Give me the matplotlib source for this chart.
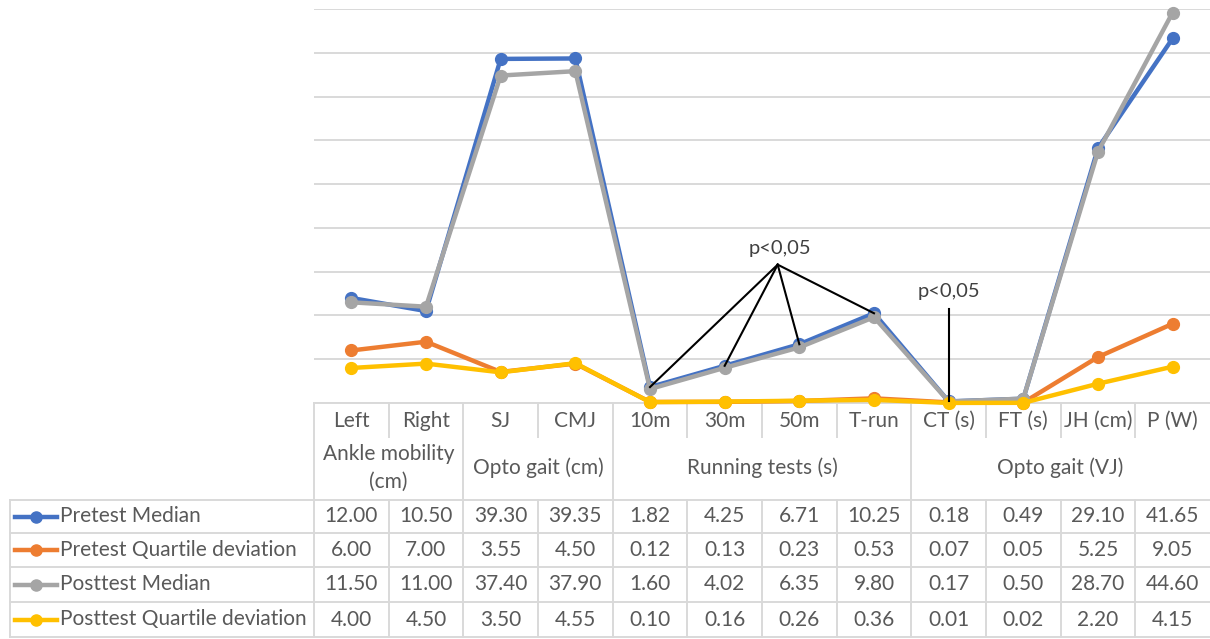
import matplotlib
matplotlib.use("Agg")
import matplotlib.pyplot as plt
from matplotlib.lines import Line2D

CATEGORIES = ["Left", "Right", "SJ", "CMJ", "10m", "30m", "50m", "T-run",
              "CT (s)", "FT (s)", "JH (cm)", "P (W)"]
GROUPS = ["Ankle mobility\n(cm)", "Opto gait (cm)", "Running tests (s)", "Opto gait (VJ)"]
GROUP_SPANS = [(0, 2), (2, 4), (4, 8), (8, 12)]

SERIES_NAMES = ["Pretest Median", "Pretest Quartile deviation",
                "Posttest Median", "Posttest Quartile deviation"]
PRETEST_MEDIAN = [12.00, 10.50, 39.30, 39.35, 1.82, 4.25, 6.71, 10.25, 0.18, 0.49, 29.10, 41.65]
PRETEST_QD = [6.00, 7.00, 3.55, 4.50, 0.12, 0.13, 0.23, 0.53, 0.07, 0.05, 5.25, 9.05]
POSTTEST_MEDIAN = [11.50, 11.00, 37.40, 37.90, 1.60, 4.02, 6.35, 9.80, 0.17, 0.50, 28.70, 44.60]
POSTTEST_QD = [4.00, 4.50, 3.50, 4.55, 0.10, 0.16, 0.26, 0.36, 0.01, 0.02, 2.20, 4.15]

COLORS = ["#4472C4", "#ED7D31", "#A5A5A5", "#FFC000"]
SERIES = [PRETEST_MEDIAN, PRETEST_QD, POSTTEST_MEDIAN, POSTTEST_QD]

# significant differences (running tests, CT)
SIG_RUN = [4, 5, 6, 7]
SIG_CT = 8

TEXT_COLOR = "#595959"
GRID_COLOR = "#D9D9D9"
FONT = ["Lato", "DejaVu Sans"]
FS = 15

W, H = 1210, 639
plt.rcParams["font.family"] = FONT

fig = plt.figure(figsize=(W / 100, H / 100), dpi=100)

# plot area in pixels (from top-left)
px_left, px_right, px_top, px_bottom = 314, 1210, 9, 403
ax = fig.add_axes([px_left / W, (H - px_bottom) / H,
                   (px_right - px_left) / W, (px_bottom - px_top) / H])
ax.set_xlim(-0.5, len(CATEGORIES) - 0.5)
ax.set_ylim(0, 45)
ax.set_yticks(range(0, 46, 5))
ax.set_xticks([])
ax.tick_params(left=False, labelleft=False)
ax.grid(axis="y", color=GRID_COLOR, lw=1.4)
ax.set_axisbelow(True)
for s in ["top", "right", "left"]:
    ax.spines[s].set_visible(False)
ax.spines["bottom"].set_color(GRID_COLOR)
ax.spines["bottom"].set_linewidth(1.4)
ax.patch.set_alpha(0)

x = list(range(len(CATEGORIES)))
for vals, col in zip(SERIES, COLORS):
    ax.plot(x, vals, color=col, lw=3.2, marker="o", markersize=8.5, clip_on=False, zorder=3)

# annotations
hub = (5.71, 15.8)
ax.text(5.74, 17.7, "p<0,05", ha="center", va="center", fontsize=FS - 0.5, color="#404040")
for i in SIG_RUN:
    ax.plot([hub[0], i], [hub[1], PRETEST_MEDIAN[i]], color="black", lw=1.5, zorder=4)
ax.text(SIG_CT, 12.7, "p<0,05", ha="center", va="center", fontsize=FS - 0.5, color="#404040")
ax.plot([SIG_CT, SIG_CT], [10.7, PRETEST_MEDIAN[SIG_CT]], color="black", lw=1.5, zorder=4)

# data table below the plot
fig.canvas.draw()
edges = [ax.transData.transform((i - 0.5, 0))[0] for i in range(len(CATEGORIES) + 1)]
centers = [(a + b) / 2 for a, b in zip(edges[:-1], edges[1:])]

tab = fig.add_axes([0, 0, 1, 1], zorder=-1)
tab.set_xlim(0, W)
tab.set_ylim(H, 0)
tab.axis("off")

leg_left = 10
cat_top, cat_tick, grp_bottom = 403, 437, 500
row_lines = [500, 533, 567, 602, 637]
lw_tab = 1.4

for y in row_lines:
    tab.plot([leg_left, W], [y, y], color=GRID_COLOR, lw=lw_tab)
tab.plot([leg_left, leg_left], [row_lines[0], row_lines[-1]], color=GRID_COLOR, lw=lw_tab)
tab.plot([edges[0], edges[0]], [cat_top, row_lines[-1]], color=GRID_COLOR, lw=lw_tab)
group_edges = {a for a, b in GROUP_SPANS} | {b for a, b in GROUP_SPANS}
for i in range(1, len(CATEGORIES)):
    if i in group_edges:
        tab.plot([edges[i]] * 2, [cat_top, row_lines[-1]], color=GRID_COLOR, lw=lw_tab)
    else:
        tab.plot([edges[i]] * 2, [cat_top, cat_tick], color=GRID_COLOR, lw=lw_tab)
        tab.plot([edges[i]] * 2, [grp_bottom, row_lines[-1]], color=GRID_COLOR, lw=lw_tab)

for cx, lab in zip(centers, CATEGORIES):
    tab.text(cx, 421, lab, ha="center", va="center", fontsize=FS, color=TEXT_COLOR)
for lab, (a, b) in zip(GROUPS, GROUP_SPANS):
    tab.text((edges[a] + edges[b]) / 2, 468, lab, ha="center", va="center",
             fontsize=FS, color=TEXT_COLOR, linespacing=1.45)

for r, (name, vals, col) in enumerate(zip(SERIES_NAMES, SERIES, COLORS)):
    yc = (row_lines[r] + row_lines[r + 1]) / 2
    tab.add_line(Line2D([15, 57], [yc, yc], color=col, lw=3.2))
    tab.plot([36], [yc], marker="o", color=col, markersize=8)
    tab.text(60, yc, name, ha="left", va="center", fontsize=FS, color=TEXT_COLOR)
    for cx, v in zip(centers, vals):
        tab.text(cx, yc, f"{v:.2f}", ha="center", va="center", fontsize=FS, color=TEXT_COLOR)

fig.savefig("out.png", dpi=100)
